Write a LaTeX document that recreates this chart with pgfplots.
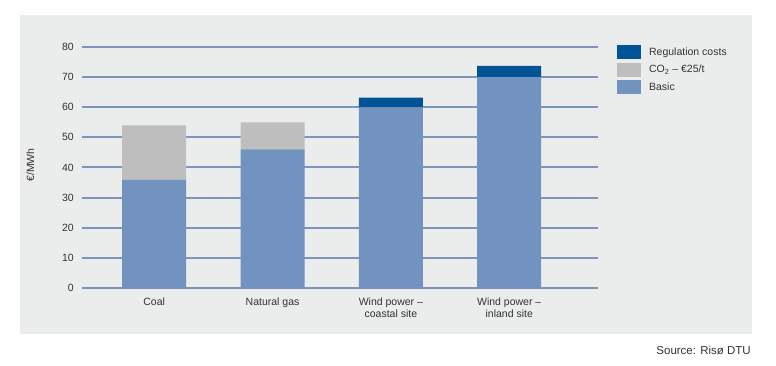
\documentclass[border=0pt]{standalone}
\usepackage{pgfplots}
\pgfplotsset{compat=1.18}
\usepackage{fontspec}
\setmainfont{Liberation Sans}
\definecolor{bgpanel}{RGB}{235,236,236}
\definecolor{basic}{RGB}{114,146,192}
\definecolor{cotwo}{RGB}{190,190,191}
\definecolor{reg}{RGB}{0,84,150}
\definecolor{gridc}{RGB}{128,147,186}
\begin{document}
\begin{tikzpicture}[x=1pt,y=1pt]
\fill[white] (0,0) rectangle (776,366);
\fill[bgpanel] (20,32) rectangle (752,351);
\begin{axis}[
  at={(82pt,78pt)}, anchor=south west,
  scale only axis, width=516pt, height=241pt,
  ybar stacked, bar width=64pt,
  xmin=-0.61, xmax=3.75, ymin=0, ymax=80,
  axis line style={draw=none},
  ymajorgrids, major grid style={draw=gridc, line width=2pt},
  ytick={0,10,...,80},
  xtick=data,
  xticklabels={Coal, Natural gas, {Wind power --\\coastal site}, {Wind power --\\inland site}},
  major tick length=0pt,
  tick style={draw=none},
  tick label style={font=\fontsize{10.5}{11.5}\selectfont, text=black!80},
  yticklabel style={anchor=east, inner sep=0pt, xshift=-8pt},
  xticklabel style={align=center, anchor=north, inner sep=0pt, yshift=-10pt},
  /pgf/number format/assume math mode=true,
  ylabel={€/MWh},
  ylabel style={at={(axis description cs:-0.1,0.51)}, anchor=center, font=\fontsize{10.5}{11.5}\selectfont, text=black!80},
  legend style={at={(rel axis cs:1.0367,1.008)}, anchor=north west, draw=none, fill=none, inner sep=0pt,
    font=\fontsize{10.5}{11.5}\selectfont, text=black!80,
    row sep=3.5pt},
  legend cell align=left,
  reverse legend,
  legend image code/.code={\fill[#1] (0pt,-7pt) rectangle (24pt,7pt); \path (30pt,0pt);},
  clip=false,
]
\addplot[fill=basic, draw=none] coordinates {(0,36) (1,46) (2,60) (3,70)};
\addplot[fill=cotwo, draw=none] coordinates {(0,18) (1,9) (2,0) (3,0)};
\addplot[fill=reg, draw=none] coordinates {(0,0) (1,0) (2,3.2) (3,3.7)};
\legend{Basic, CO\textsubscript{2} -- €25/t, Regulation costs}
\end{axis}
\node[anchor=base east, font=\fontsize{11.5}{13}\selectfont, text=black!80, inner sep=0pt] at (751,11) {Source: Risø DTU};
\end{tikzpicture}
\end{document}
